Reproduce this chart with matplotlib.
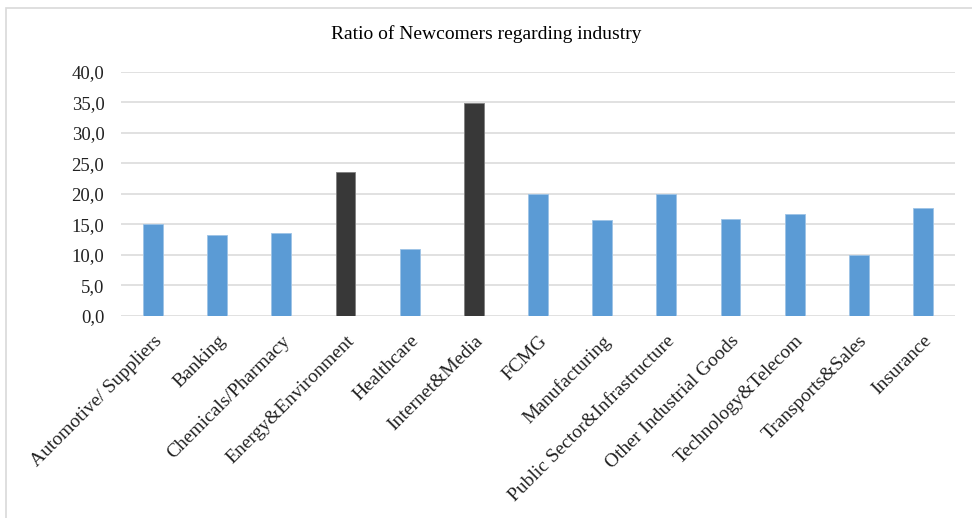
import numpy as np
import matplotlib
matplotlib.use("Agg")
import matplotlib.pyplot as plt
from matplotlib.patches import Rectangle

industries = ["Automotive/ Suppliers", "Banking", "Chemicals/Pharmacy", "Energy&Environment",
              "Healthcare", "Internet&Media", "FCMG", "Manufacturing",
              "Public Sector&Infrastructure", "Other Industrial Goods", "Technology&Telecom",
              "Transports&Sales", "Insurance"]
ratios = [15.0, 13.2, 13.5, 23.6, 11.0, 34.9, 20.0, 15.7, 20.0, 15.9, 16.7, 10.0, 17.7]
highlight = ["Energy&Environment", "Internet&Media"]
yticks = [0, 5, 10, 15, 20, 25, 30, 35, 40]

plt.rcParams["font.family"] = ["Liberation Serif", "DejaVu Serif"]

fig = plt.figure(figsize=(9.72, 5.18), dpi=100)
ax = fig.add_axes([0.1245, 0.3905, 0.8580, 0.4711])

colors = ["#383838" if name in highlight else "#5B9BD5" for name in industries]
x = np.arange(len(industries))
bars = ax.bar(x, ratios, width=0.31, color=colors, edgecolor="#9DC3E6", linewidth=0.6, zorder=3)
for b, c in zip(bars, colors):
    if c == "#383838":
        b.set_edgecolor("#7f7f7f")

ax.set_xlim(-0.5, len(industries) - 0.5)
ax.set_ylim(0, 40)
ax.set_yticks(yticks)
ax.set_yticklabels([f"{v:.1f}".replace(".", ",") for v in yticks], fontsize=13.5, color="#222222")
ax.set_xticks(x)
ax.set_xticklabels(industries, rotation=45, ha="right", rotation_mode="anchor", fontsize=14, color="#222222")
ax.tick_params(axis="y", length=0, pad=12)
ax.tick_params(axis="x", length=0, pad=12)
ax.grid(axis="y", color="#D9D9D9", linewidth=1.1, zorder=0)
for s in ax.spines.values():
    s.set_visible(False)

fig.text(0.5, 1 - 34 / 518, "Ratio of Newcomers regarding industry", ha="center", va="center", fontsize=14)

# chart area border
fig.patches.append(Rectangle((6 / 972, -0.1), 1.2, 1 - 8 / 518 + 0.1, transform=fig.transFigure,
                             fill=False, edgecolor="#D9D9D9", linewidth=1.2))

fig.savefig("out.png", dpi=100)
